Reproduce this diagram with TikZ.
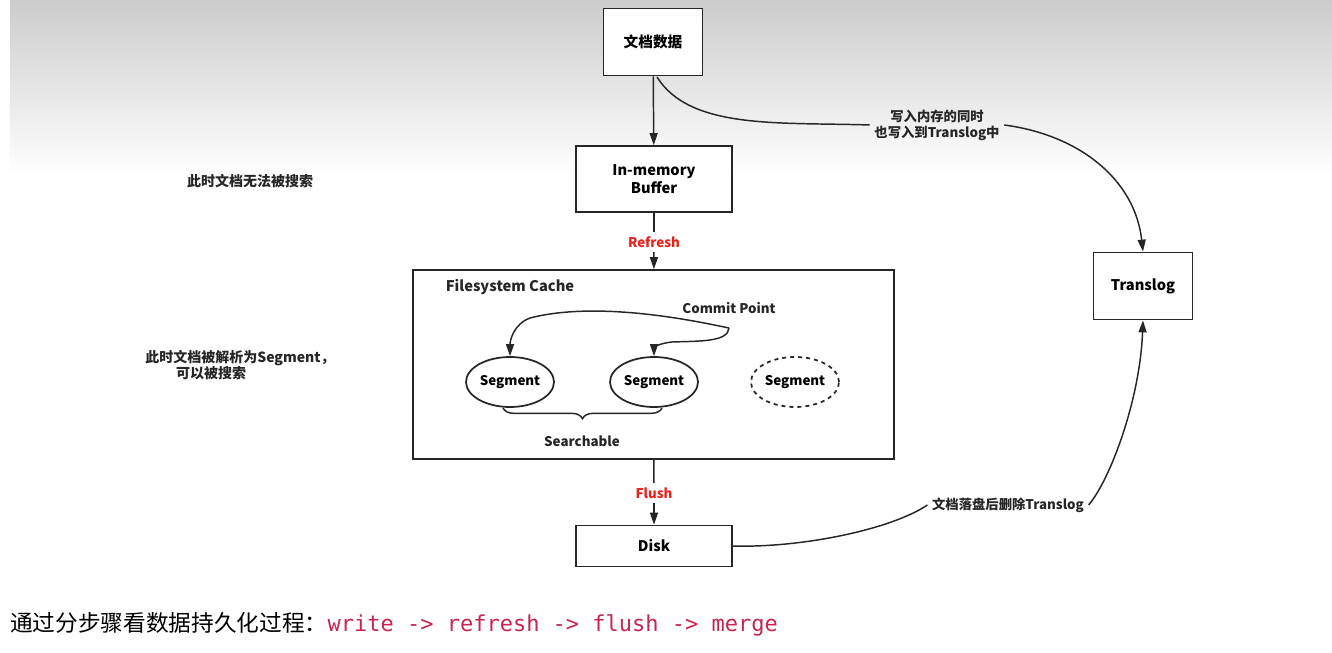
\documentclass[tikz,border=0pt]{standalone}
\usepackage{fontspec}
\setmainfont{Open Sans}
\newfontfamily\cjk{Noto Sans CJK SC}
\newfontfamily\monof{DejaVu Sans Mono}
\usetikzlibrary{arrows.meta,decorations.pathreplacing,shapes.geometric}
\definecolor{redt}{HTML}{E8221B}
\definecolor{codered}{HTML}{C7254E}
\begin{document}
\begin{tikzpicture}[x=0.75pt,y=-0.75pt,
  box/.style={draw=black!85,line width=1.3pt,fill=white,align=center,font=\cjk\bfseries\fontsize{11}{13}\selectfont,inner sep=0pt},
  seg/.style={ellipse,draw=black!85,line width=1.3pt,minimum width=88*0.75pt,minimum height=50*0.75pt,inner sep=0pt,font=\cjk\bfseries\fontsize{10}{12}\selectfont},
  lbl/.style={font=\cjk\bfseries\fontsize{10}{12}\selectfont,align=center,text=black!85},
  arr/.style={draw=black!85,line width=1.1pt,-{Triangle[length=9pt,width=6pt]}},
  red/.style={font=\cjk\bfseries\fontsize{10}{12}\selectfont,text=redt}]
\useasboundingbox (0,0) rectangle (1332,653);
\shade[top color=black!20,bottom color=white] (10,0) rectangle (1332,175);
\node[box,minimum width=99*0.75pt,minimum height=67*0.75pt] (doc) at (653,42) {文档数据};
\node[box,minimum width=156*0.75pt,minimum height=66*0.75pt] (buf) at (654,179) {In-memory\\Buffer};
\node[box,minimum width=481*0.75pt,minimum height=189*0.75pt] (fs) at (653.5,364.5) {};
\node[box,minimum width=156*0.75pt,minimum height=41*0.75pt] (disk) at (654,546) {Disk};
\node[box,minimum width=99*0.75pt,minimum height=67*0.75pt] (tl) at (1143,286) {Translog};
\node[lbl,font=\cjk\bfseries\fontsize{11}{13}\selectfont] (fsl) at (510,287) {Filesystem Cache};
\node[lbl] (cp) at (729,308) {Commit Point};
\node[seg] (s1) at (510,382) {Segment};
\node[seg] (s2) at (654,382) {Segment};
\node[seg,dashed] (s3) at (795,382) {Segment};
\node[lbl] (sb) at (582,441) {Searchable};
\draw[black!85,line width=1.1pt,decorate,decoration={brace,amplitude=8pt,mirror}] (503,408) -- (662,408);
\node[red] (rf) at (654,242) {Refresh};
\node[red] (fl) at (654,493) {Flush};
\draw[arr] (doc) -- (buf);
\draw[black!85,line width=1.1pt] (buf) -- (rf);
\draw[arr] (rf) -- (fs);
\draw[black!85,line width=1.1pt] (fs) -- (fl);
\draw[arr] (fl) -- (disk);
\node[lbl] (w) at (937,125) {写入内存的同时\\也写入到Translog中};
\node[lbl] (d) at (1008,505) {文档落盘后删除Translog};
\node[lbl,font=\cjk\bfseries\fontsize{10.5}{12.5}\selectfont] at (250,181) {此时文档无法被搜索};
\node[lbl,font=\cjk\bfseries\fontsize{10.5}{12.5}\selectfont,align=left] at (240,365) {此时文档被解析为Segment，\\\hspace*{2.2em}可以被搜索};
\coordinate (t) at (729,328);
\draw[arr] (t) .. controls (700,322) and (600,300) .. (530,318) .. controls (514,324) and (510,340) .. (s1.north);
\draw[arr] (t) .. controls (728,342) and (700,341) .. (672,342) .. controls (660,343) and (654,348) .. (s2.north);
\draw[black!85,line width=1.1pt] (657,77) .. controls (690,130) and (780,122) .. (w.west);
\draw[arr] (w.east) .. controls (1080,135) and (1135,180) .. (tl.north);
\draw[black!85,line width=1.1pt] (disk.east) .. controls (800,548) and (890,530) .. (d.west);
\draw[arr] (d.east) .. controls (1110,480) and (1140,400) .. (tl.south);
\node[anchor=west,inner sep=0pt] (bt) at (10,624) {{\cjk\fontsize{17}{20}\selectfont 通过分步骤看数据持久化过程：}{\monof\fontsize{16.5}{20}\selectfont\color{codered}write -> refresh -> flush -> merge}};
\end{tikzpicture}
\end{document}
